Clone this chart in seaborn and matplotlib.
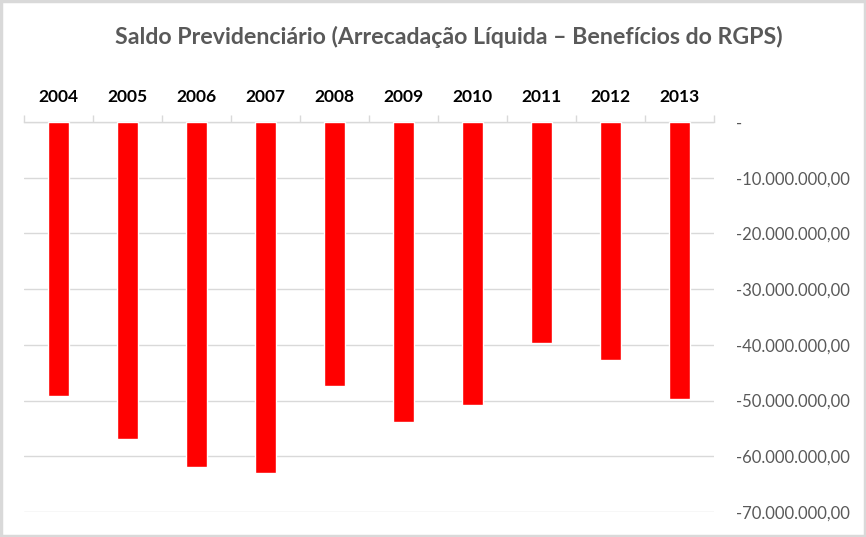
import matplotlib
matplotlib.use("Agg")
import matplotlib.pyplot as plt
import seaborn as sns
import pandas as pd
import numpy as np
from matplotlib.ticker import FuncFormatter, FixedLocator, MultipleLocator
from matplotlib.patches import Rectangle

years = ["2004", "2005", "2006", "2007", "2008", "2009", "2010", "2011", "2012", "2013"]
saldo = [-49.2e6, -56.9e6, -61.9e6, -63.0e6, -47.4e6, -53.8e6, -50.8e6, -39.7e6, -42.8e6, -49.7e6]
title = "Saldo Previdenciário (Arrecadação Líquida – Benefícios do RGPS)"

sns.set_theme(style="white")
plt.rcParams["font.family"] = ["Lato", "DejaVu Sans"]

df = pd.DataFrame({"ano": years, "saldo": saldo})

fig = plt.figure(figsize=(8.66, 5.37), dpi=100)
ax = fig.add_axes([24 / 866, 1 - 512 / 537, 690 / 866, 390 / 537])

sns.barplot(data=df, x="ano", y="saldo", color="#FF0000", saturation=1,
            width=0.31, ax=ax, zorder=3)

ax.set_ylim(-70e6, 0)
ax.set_xlim(-0.5, len(years) - 0.5)
ax.yaxis.set_major_locator(MultipleLocator(10e6))

def fmt(v, pos):
    if abs(v) < 1:
        return "-"
    s = f"{abs(v):,.2f}".replace(",", "X").replace(".", ",").replace("X", ".")
    return ("-" if v < 0 else "") + s

ax.yaxis.set_major_formatter(FuncFormatter(fmt))
ax.yaxis.tick_right()
ax.tick_params(axis="y", length=0, pad=16, labelsize=12, labelcolor="#595959")
ax.grid(axis="y", color="#d9d9d9", linewidth=1, zorder=0)
ax.set_axisbelow(True)

ax.xaxis.tick_top()
ax.tick_params(axis="x", which="major", length=0, pad=12, labelsize=12.5, labelcolor="black")
for lab in ax.get_xticklabels():
    lab.set_fontweight("bold")
ax.xaxis.set_minor_locator(FixedLocator(np.arange(-0.5, len(years), 1.0)))
ax.tick_params(axis="x", which="minor", length=5, color="#d9d9d9", width=1, top=True, bottom=False)

for side in ["left", "right", "bottom"]:
    ax.spines[side].set_visible(False)
ax.spines["top"].set_color("#d9d9d9")
ax.spines["top"].set_linewidth(1)
ax.set_xlabel("")
ax.set_ylabel("")

fig.text(449 / 866, 1 - 37 / 537, title, ha="center", va="center",
         fontsize=16.7, fontweight="bold", color="#595959")

fig.patches.append(Rectangle((0.0015, 0.002), 0.997, 0.996, transform=fig.transFigure,
                             fill=False, edgecolor="#d9d9d9", linewidth=2.5))

fig.savefig("out.png", dpi=100, facecolor="white")
